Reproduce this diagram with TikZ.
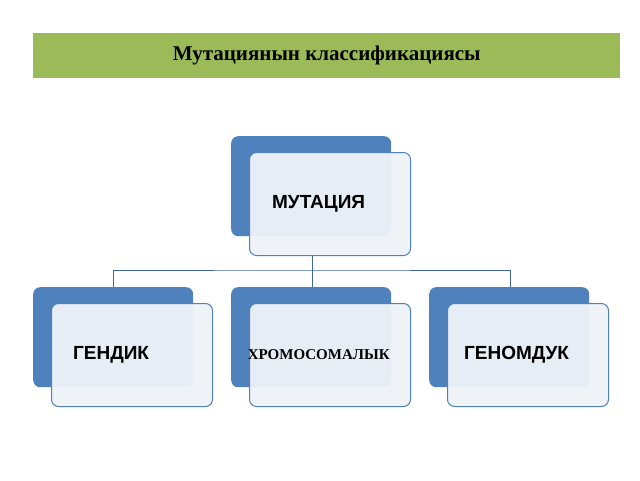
\documentclass[tikz,border=0pt]{standalone}
\usepackage{fontspec}
\setmainfont{Liberation Serif}
\newfontfamily\boxfont{Liberation Sans}
\usetikzlibrary{positioning}
\definecolor{bannergreen}{HTML}{9BBB59}
\definecolor{boxblue}{HTML}{4F81BD}
\definecolor{boxface}{HTML}{EEF2F7}
\tikzset{
  backbox/.style={fill=boxblue, rounded corners=7pt, minimum width=160pt, minimum height=100pt, anchor=north west},
  frontbox/.style={draw=boxblue, line width=1pt, fill=boxface, fill opacity=0.96, text opacity=1, rounded corners=7pt, minimum width=161pt, minimum height=103pt, anchor=north west, font=\boxfont\bfseries\fontsize{19}{22}\selectfont},
  link/.style={draw=boxblue!80!black, line width=0.8pt}
}
\begin{document}
\begin{tikzpicture}[x=1pt, y=-1pt]
\useasboundingbox (0,0) rectangle (640,480);
\node[fill=bannergreen, minimum width=587pt, minimum height=45pt, anchor=north west, font=\bfseries\fontsize{21}{24}\selectfont] (title) at (33,33) {Мутациянын классификациясы};

\node[backbox] (mutb) at (231,136) {};
\node[frontbox] (mut) at (249,152) {\hspace*{-1.2em}МУТАЦИЯ};

\node[backbox] (genb) at (33,287) {};
\node[frontbox] (gen) at (51,303) {\hspace*{-2.2em}ГЕНДИК};
\node[backbox] (chrb) at (231,287) {};
\node[frontbox, font=\bfseries\fontsize{15}{18}\selectfont] (chr) at (249,303) {\hspace*{-1.5em}ХРОМОСОМАЛЫК};
\node[backbox] (genomb) at (429,287) {};
\node[frontbox] (genom) at (447,303) {\hspace*{-1.2em}ГЕНОМДУК};

\coordinate (hub) at (312,270);
\path[link] (mut.south -| hub) -- (hub)
  (genb.north -| 113,0) |- (hub) -| (genomb.north -| 510,0)
  (hub) -- (chrb.north -| hub);
\end{tikzpicture}
\end{document}
